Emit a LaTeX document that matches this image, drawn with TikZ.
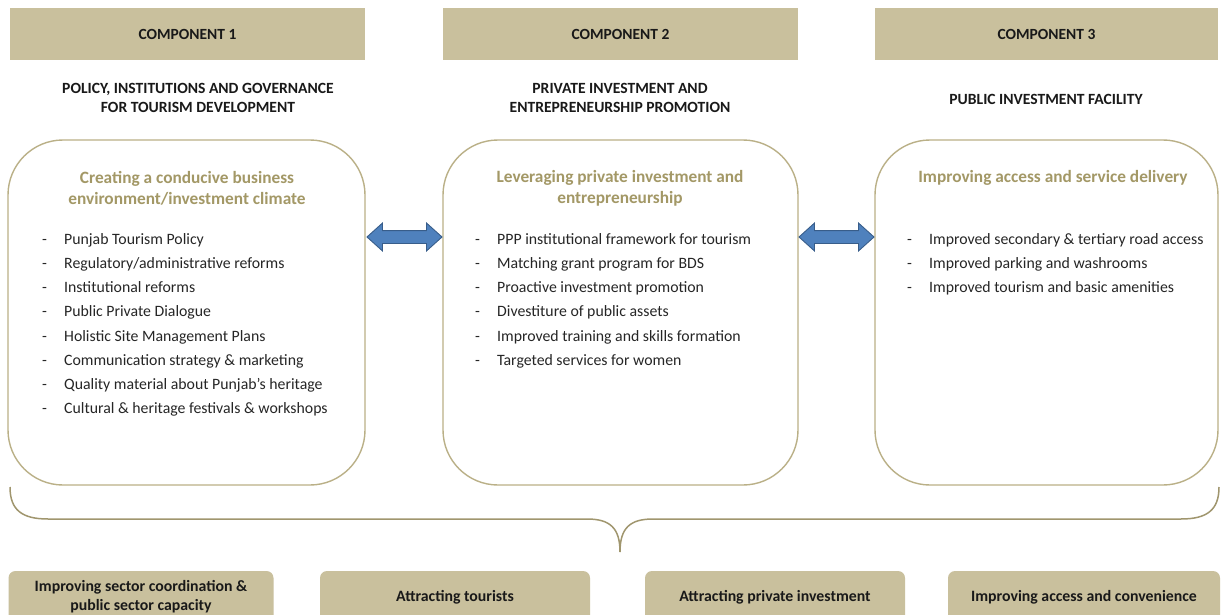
\documentclass[tikz,border=0pt]{standalone}
\usepackage{fontspec}
\setmainfont{Carlito}
\usetikzlibrary{shapes.arrows}
\definecolor{tanfill}{RGB}{201,192,157}
\definecolor{tanline}{RGB}{186,176,135}
\definecolor{tantext}{RGB}{163,152,102}
\definecolor{bracecol}{RGB}{160,150,110}
\definecolor{arrowfill}{RGB}{79,129,189}
\definecolor{arrowline}{RGB}{56,93,138}
\newcommand{\dashitem}[1]{\makebox[22pt][l]{-}#1}
\tikzset{
  header/.style={fill=tanfill, draw=none, minimum width=355pt, minimum height=52pt, font=\fontsize{15.5}{18}\selectfont\bfseries, text=black!90},
  subtitle/.style={font=\fontsize{15.6}{19.5}\selectfont\bfseries, align=center, text=black!90},
  panel/.style={draw=tanline, line width=1.4pt, rounded corners=55pt, minimum width=357pt, minimum height=345pt},
  ptitle/.style={font=\fontsize{17.3}{21}\selectfont\bfseries, text=tantext, align=center},
  itemlist/.style={font=\fontsize{15.8}{24.1}\selectfont, align=left, text=black!85, anchor=north west, inner sep=0pt},
  link/.style={double arrow, draw=arrowline, fill=arrowfill, line width=0.9pt, minimum height=75pt, double arrow head extend=7.5pt, double arrow tip angle=84, inner sep=0pt},
  result/.style={fill=tanfill, rounded corners=7pt, minimum height=52pt, font=\fontsize{15.8}{19}\selectfont\bfseries, align=center, text=black!90},
}
\begin{document}
\begin{tikzpicture}[x=1pt,y=-1pt]
\useasboundingbox (0,0) rectangle (1224,615);
\fill[white] (0,0) rectangle (1224,615);

% component headers
\node[header] (h1) at (187.5,34) {COMPONENT 1};
\node[header, minimum width=355pt] (h2) at (620.5,34) {COMPONENT 2};
\node[header, minimum width=343pt] (h3) at (1046.5,34) {COMPONENT 3};

% component themes
\node[subtitle] (s1) at (198,98) {POLICY, INSTITUTIONS AND GOVERNANCE\\FOR TOURISM DEVELOPMENT};
\node[subtitle] (s2) at (620,98) {PRIVATE INVESTMENT AND\\ENTREPRENEURSHIP PROMOTION};
\node[subtitle] (s3) at (1046,99) {PUBLIC INVESTMENT FACILITY};

% rounded panels
\node[panel] (p1) at (186.5,312.5) {};
\node[panel, minimum width=355pt] (p2) at (620.5,312.5) {};
\node[panel, minimum width=343pt] (p3) at (1046.5,312.5) {};

\node[ptitle] (t1) at (187,188) {Creating a conducive business\\environment/investment climate};
\node[ptitle] (t2) at (620,188) {Leveraging private investment and\\entrepreneurship};
\node[ptitle] (t3) at (1053,177.5) {Improving access and service delivery};

% activity lists
\node[itemlist] (l1) at (42,233.5) {%
\dashitem{Punjab Tourism Policy}\\
\dashitem{Regulatory/administrative reforms}\\
\dashitem{Institutional reforms}\\
\dashitem{Public Private Dialogue}\\
\dashitem{Holistic Site Management Plans}\\
\dashitem{Communication strategy \& marketing}\\
\dashitem{Quality material about Punjab’s heritage}\\
\dashitem{Cultural \& heritage festivals \& workshops}};

\node[itemlist] (l2) at (475,233.5) {%
\dashitem{PPP institutional framework for tourism}\\
\dashitem{Matching grant program for BDS}\\
\dashitem{Proactive investment promotion}\\
\dashitem{Divestiture of public assets}\\
\dashitem{Improved training and skills formation}\\
\dashitem{Targeted services for women}};

\node[itemlist] (l3) at (907,233.5) {%
\dashitem{Improved secondary \& tertiary road access}\\
\dashitem{Improved parking and washrooms}\\
\dashitem{Improved tourism and basic amenities}};

% links between panels
\node[link] (a1) at (404.5,237) {\rule{0pt}{12pt}};
\node[link] (a2) at (836.5,237) {\rule{0pt}{12pt}};

% brace gathering the three components
\coordinate (bl) at (10,487);
\coordinate (bm) at (620,552);
\coordinate (br) at (1219,487);
\draw[bracecol, line width=1.5pt]
  (bl) .. controls (10,510) and (22,519) .. (48,519)
  -- (587,519) .. controls (610,519) and (620,528) .. (bm)
  .. controls (620,528) and (630,519) .. (653,519)
  -- (1181,519) .. controls (1207,519) and (1219,510) .. (br);

% expected results
\node[result, minimum width=265pt] (r1) at (141,597) {Improving sector coordination \&\\public sector capacity};
\node[result, minimum width=270pt] (r2) at (455,597) {Attracting tourists};
\node[result, minimum width=260pt] (r3) at (775,597) {Attracting private investment};
\node[result, minimum width=272pt] (r4) at (1084,597) {Improving access and convenience};
\end{tikzpicture}
\end{document}
